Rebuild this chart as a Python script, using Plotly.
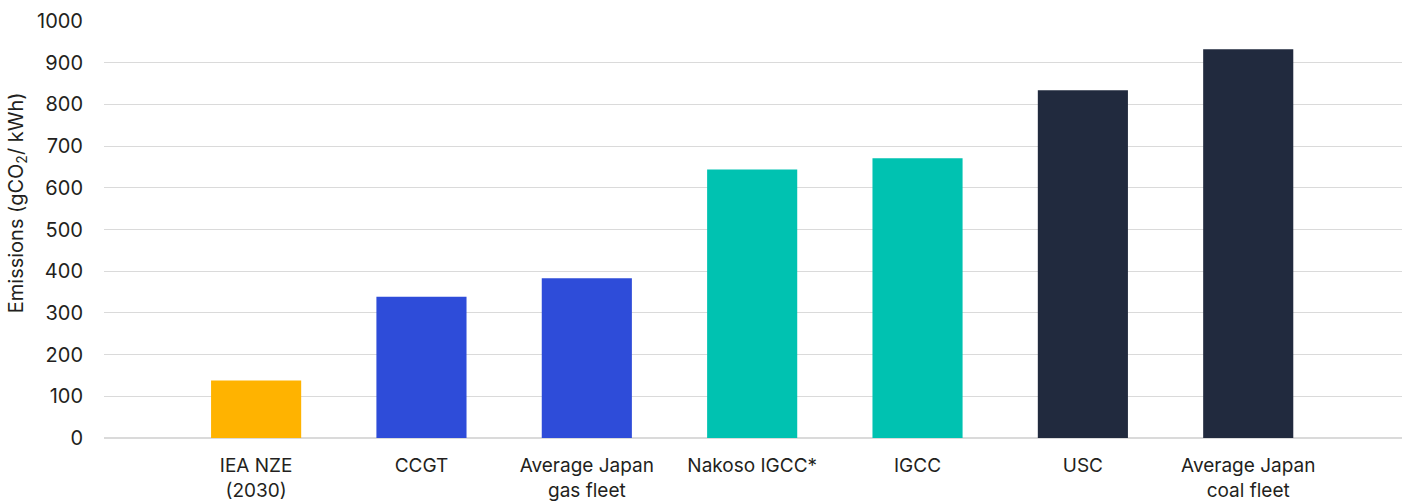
import plotly.graph_objects as go

# Emission intensity by generation technology
categories = [
    "IEA NZE<br>(2030)",
    "CCGT",
    "Average Japan<br>gas fleet",
    "Nakoso IGCC*",
    "IGCC",
    "USC",
    "Average Japan<br>coal fleet",
]
emissions = [138, 339, 383, 644, 671, 834, 932]
bar_colors = ["#FFB300", "#2E4CD9", "#2E4CD9", "#00C2B1", "#00C2B1", "#212A3E", "#212A3E"]

y_ticks = list(range(0, 1001, 100))
y_title = "Emissions (gCO<sub>2</sub>/ kWh)"

text_color = "#231F20"
font_family = "Inter, Roboto, Arial, sans-serif"

fig = go.Figure(
    go.Bar(
        x=categories,
        y=emissions,
        marker=dict(color=bar_colors, line=dict(width=0)),
        width=0.545,
        hoverinfo="x+y",
    )
)

fig.update_layout(
    width=1407,
    height=502,
    margin=dict(l=104, r=5, t=21, b=64),
    paper_bgcolor="white",
    plot_bgcolor="white",
    showlegend=False,
    font=dict(family=font_family, size=19, color=text_color),
)

fig.update_xaxes(
    type="category",
    range=[-0.92, 6.93],
    automargin=False,
    showgrid=False,
    showline=False,
    zeroline=False,
    ticks="",
    ticklabelstandoff=14,
    tickfont=dict(size=19, color=text_color),
)

fig.update_yaxes(
    range=[0, 1000],
    tickvals=y_ticks,
    automargin=False,
    showgrid=True,
    gridcolor="#DADADA",
    gridwidth=1,
    zeroline=True,
    zerolinecolor="#DADADA",
    zerolinewidth=2,
    showline=False,
    ticks="",
    ticklabelstandoff=20,
    tickfont=dict(size=20, color=text_color),
)

# Vertical axis title, placed as a rotated annotation
fig.add_annotation(
    text=y_title,
    xref="paper",
    yref="paper",
    x=0,
    y=0.563,
    xanchor="center",
    yanchor="middle",
    xshift=-87,
    textangle=-90,
    showarrow=False,
    font=dict(size=20, color=text_color),
)

fig.write_html("out.html")
